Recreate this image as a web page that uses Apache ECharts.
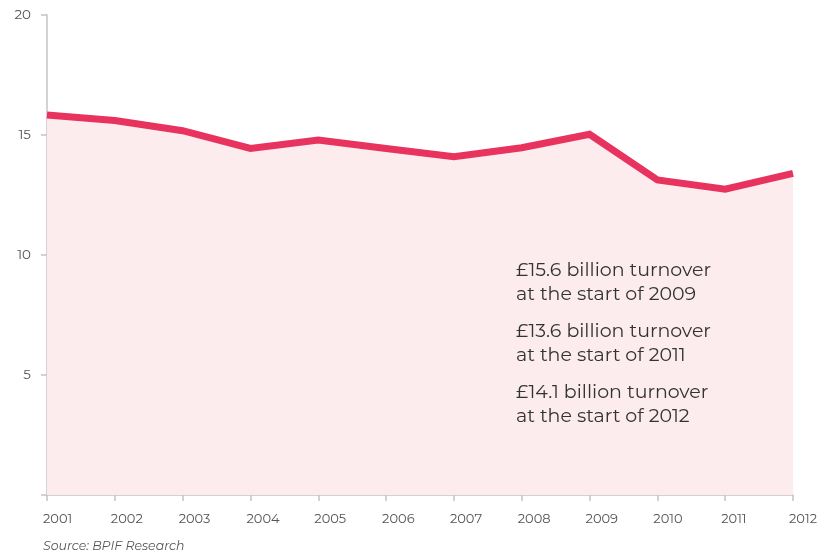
<!DOCTYPE html>
<html>
<head>
<meta charset="utf-8">
<style>
  html, body { margin: 0; padding: 0; background: #fff; }
  #chart { width: 839px; height: 556px; }
</style>
<script src="https://cdn.jsdelivr.net/npm/echarts@6/dist/echarts.min.js"></script>
</head>
<body>
<div id="chart"></div>
<script>
// Printing industry turnover, £ billion
const years = ['2001','2002','2003','2004','2005','2006','2007','2008','2009','2010','2011','2012'];
const turnover = [15.83, 15.6, 15.18, 14.44, 14.79, 14.44, 14.1, 14.47, 15.03, 13.13, 12.74, 13.4];
const notes = [
  '£15.6 billion turnover\nat the start of 2009',
  '£13.6 billion turnover\nat the start of 2011',
  '£14.1 billion turnover\nat the start of 2012'
];
const sourceNote = 'Source: BPIF Research';

const font = 'Montserrat, "Open Sans", Lato, sans-serif';
const chart = echarts.init(document.getElementById('chart'), null, { renderer: 'canvas' });

chart.setOption({
  animation: false,
  backgroundColor: '#ffffff',
  grid: { left: 47, right: 46, top: 15, bottom: 61 },
  xAxis: {
    type: 'category',
    data: years,
    boundaryGap: false,
    axisLine: { lineStyle: { color: '#c4c4c4', width: 1.5 } },
    axisTick: { length: 6, lineStyle: { color: '#c4c4c4', width: 1.5 } },
    axisLabel: { color: '#555', fontSize: 13, fontFamily: font, align: 'left', margin: 18, padding: [0, 0, 0, -4] },
    splitLine: { show: false }
  },
  yAxis: {
    type: 'value',
    min: 0, max: 20, interval: 5,
    axisLine: { show: true, lineStyle: { color: '#c4c4c4', width: 1.5 } },
    axisTick: { show: true, length: 6, lineStyle: { color: '#c4c4c4', width: 1.5 } },
    axisLabel: {
      color: '#555', fontSize: 13.5, fontFamily: font, margin: 16,
      formatter: v => v === 0 ? '' : String(v)
    },
    splitLine: { show: false }
  },
  series: [{
    type: 'line',
    data: turnover,
    symbol: 'none',
    lineStyle: { color: '#e8335f', width: 7, join: 'miter' },
    areaStyle: { color: '#fcecee', opacity: 1 },
    z: 2
  }],
  graphic: [
    ...notes.map((t, i) => ({
      type: 'text',
      left: 516,
      top: 258 + i * 61,
      style: { text: t, fill: '#333', fontSize: 19, fontFamily: font, lineHeight: 24 },
      z: 10
    })),
    {
      type: 'text',
      left: 43,
      top: 540,
      style: { text: sourceNote, fill: '#555', fontSize: 12.5, fontStyle: 'italic', fontFamily: font }
    }
  ]
});
</script>
</body>
</html>
